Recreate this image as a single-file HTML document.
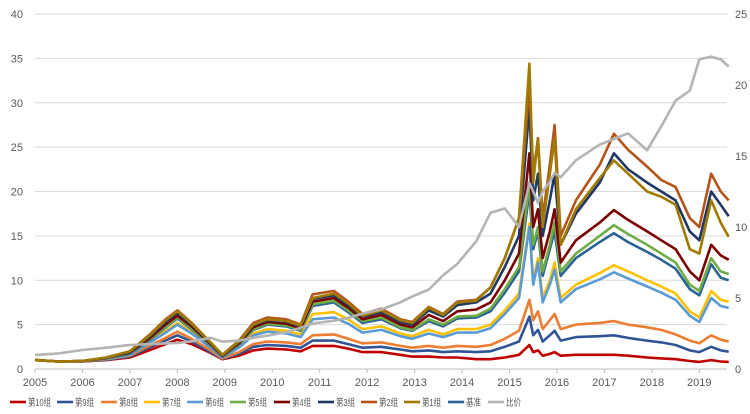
<!DOCTYPE html>
<html><head><meta charset="utf-8"><style>
html,body{margin:0;padding:0;background:#fff;}
svg{display:block;font-family:"Liberation Sans","Noto Sans CJK SC",sans-serif;}
</style></head><body>
<svg id="chart" width="750" height="414" viewBox="0 0 750 414" xmlns="http://www.w3.org/2000/svg">
<g id="grid"></g>
<g id="axes"></g>
<g id="series"></g>
<g id="legend"></g>
</svg>
<script>
const dates=[2005.0,2005.5,2006.0,2006.5,2007.0,2007.4,2007.75,2008.0,2008.3,2008.7,2008.95,2009.3,2009.6,2009.9,2010.3,2010.6,2010.85,2011.3,2011.6,2011.9,2012.3,2012.7,2012.95,2013.3,2013.6,2013.9,2014.3,2014.6,2014.9,2015.2,2015.42,2015.5,2015.6,2015.7,2015.85,2015.95,2016.08,2016.4,2016.9,2017.2,2017.5,2017.9,2018.2,2018.5,2018.8,2019.0,2019.25,2019.45,2019.62];
const g10=[1.0,0.85,0.85,1.0,1.3,2.1,2.8,3.3,2.8,1.8,1.1,1.5,2.1,2.3,2.2,2.0,2.6,2.6,2.3,1.9,1.9,1.6,1.4,1.4,1.3,1.3,1.1,1.1,1.3,1.6,2.7,1.9,2.1,1.5,1.7,1.9,1.5,1.6,1.6,1.6,1.5,1.3,1.2,1.1,0.9,0.8,1.0,0.85,0.8];
const g9=[1.0,0.85,0.87,1.05,1.4,2.4,3.2,3.8,3.1,1.9,1.15,1.7,2.5,2.7,2.6,2.4,3.2,3.2,2.8,2.4,2.5,2.2,2.0,2.1,1.9,2.0,1.9,2.0,2.5,3.1,5.9,3.8,4.4,3.1,3.8,4.3,3.2,3.6,3.7,3.8,3.5,3.2,3.0,2.7,2.1,1.9,2.5,2.1,1.95];
const g8=[1.0,0.85,0.88,1.1,1.5,2.6,3.5,4.2,3.4,2.1,1.2,1.9,2.8,3.1,3.0,2.8,3.8,3.9,3.4,2.9,3.0,2.6,2.4,2.6,2.4,2.6,2.5,2.7,3.4,4.3,7.8,5.5,6.5,4.5,5.5,6.2,4.5,5.0,5.2,5.4,5.0,4.7,4.4,3.9,3.2,2.9,3.8,3.3,3.1];
const g7=[1.0,0.85,0.9,1.15,1.65,3.0,4.3,5.2,4.2,2.5,1.35,2.5,4.0,4.5,4.3,3.9,6.2,6.4,5.6,4.5,4.8,4.0,3.7,4.4,3.9,4.5,4.5,5.0,6.6,8.5,16.4,10,12.5,8,10,12,8,9.5,10.8,11.7,11,10,9.3,8.5,6.5,5.8,8.8,7.8,7.6];
const g6=[1.0,0.85,0.9,1.15,1.6,2.9,4.1,5.0,4.0,2.4,1.3,2.4,3.8,4.2,4.0,3.6,5.6,5.8,5.1,4.1,4.4,3.7,3.4,4.0,3.6,4.1,4.1,4.6,6.2,8.0,16,9.5,12,7.5,9.5,11.2,7.5,9,10.1,10.9,10.2,9.3,8.6,7.8,6,5.3,8,7.1,6.9];
const g5=[1.0,0.85,0.9,1.2,1.8,3.3,4.8,5.8,4.6,2.7,1.45,2.8,4.5,5.1,4.9,4.4,7.3,7.7,6.6,5.4,5.8,4.7,4.4,5.6,5.0,5.9,6.0,6.8,9,11.5,21,14,16,11,14,16.5,11,13,15,16.2,15.2,14,13,12,9.5,8.8,12.5,11,10.7];
const g4=[1.0,0.85,0.9,1.25,1.85,3.4,5.0,6.0,4.8,2.8,1.5,2.9,4.7,5.3,5.1,4.6,7.6,8.0,6.9,5.6,6.1,5.0,4.7,6.1,5.4,6.5,6.7,7.5,10,13,24.3,16,18,12.5,15.5,18,12,14.5,16.5,17.9,16.8,15.5,14.5,13.5,11,10,14,12.8,12.3];
const g3=[1.0,0.85,0.9,1.25,1.9,3.6,5.3,6.3,5.0,2.9,1.55,3.0,4.9,5.5,5.3,4.8,7.9,8.3,7.2,5.9,6.4,5.3,5.0,6.6,5.9,7.2,7.5,8.5,11.5,15,29.6,19,22,15,19,22,14,17.5,21,24.3,22.5,21,20,19,15.5,14.5,20,18.5,17.2];
const g2=[1.0,0.85,0.9,1.3,2.0,3.8,5.6,6.6,5.2,3.0,1.6,3.2,5.2,5.8,5.6,5.0,8.4,8.8,7.6,6.2,6.8,5.6,5.3,7.0,6.2,7.6,7.8,9.2,12.5,17,32,22,26,17,23,27.5,15,19,23,26.5,24.7,22.8,21.3,20.5,17,16,22,20,19];
const g1=[1.0,0.85,0.9,1.3,2.0,3.7,5.5,6.5,5.1,3.0,1.6,3.1,5.0,5.6,5.4,4.9,8.0,8.5,7.4,6.0,6.6,5.5,5.2,6.9,6.1,7.5,7.7,9.2,12.5,17,34.4,21,26,16,22,26,14,18,21.5,23.5,22,20,19.4,18.5,13.5,13,19,16.5,14.9];
const bench=[1.0,0.85,0.9,1.2,1.75,3.2,4.7,5.7,4.5,2.65,1.4,2.75,4.4,5.0,4.8,4.3,7.1,7.5,6.4,5.2,5.6,4.6,4.3,5.4,4.8,5.7,5.8,6.5,8.6,11,20,13.5,15.5,10.5,13.5,15.5,10.5,12.5,14.3,15.3,14.3,13.2,12.3,11.3,9,8.3,11.8,10.3,10.0];
const ratio=[0.98,1.1,1.34,1.5,1.69,1.75,1.8,1.83,1.95,2.2,1.92,2.0,2.2,2.35,2.6,2.9,3.2,3.4,3.6,3.9,4.2,4.7,5.1,5.6,6.6,7.4,9.0,11.0,11.3,10.0,13.1,12.5,11.7,12.5,13.2,13.8,13.5,14.7,15.8,16.2,16.6,15.4,17.1,18.9,19.6,21.8,22.0,21.8,21.3];
const yearTicks=[2005,2006,2007,2008,2009,2010,2011,2012,2013,2014,2015,2016,2017,2018,2019];
const leftTicks=[0,5,10,15,20,25,30,35,40];
const rightTicks=[0,5,10,15,20,25];
const seriesNames=["第10组","第9组","第8组","第7组","第6组","第5组","第4组","第3组","第2组","第1组","基准","比价"];

const NS="http://www.w3.org/2000/svg";
const X0=35,PXY=47.45,YB=369,YT=14;
const xs=t=>X0+(t-2005)*PXY;
const yl=v=>YB-(v/40)*(YB-YT);
const yr=v=>YB-(v/25)*(YB-YT);
function mk(tag,attrs,parent){const e=document.createElementNS(NS,tag);for(const k in attrs)e.setAttribute(k,attrs[k]);parent.appendChild(e);return e;}
const grid=document.getElementById('grid'),axes=document.getElementById('axes'),ser=document.getElementById('series'),leg=document.getElementById('legend');
leftTicks.forEach(v=>{
  if(v>0){const l=mk('line',{x1:X0,x2:727,y1:yl(v),y2:yl(v),stroke:'#d9d9d9','stroke-width':1},grid);
  
  }
  const t=mk('text',{x:23,y:yl(v)+4,'text-anchor':'end','font-size':11,fill:'#595959'},axes);t.textContent=v;
  
  
});
rightTicks.forEach(v=>{
  const t=mk('text',{x:735,y:yr(v)+4,'font-size':11,fill:'#595959'},axes);t.textContent=v;
  
  
});
const ax=mk('line',{x1:X0,x2:727,y1:YB,y2:YB,stroke:'#bfbfbf','stroke-width':1},axes);


yearTicks.forEach(y=>{
  const tk=mk('line',{x1:xs(y),x2:xs(y),y1:YB,y2:YB+4,stroke:'#bfbfbf'},axes);
  
  
  const t=mk('text',{x:xs(y),y:386,'text-anchor':'middle','font-size':11,fill:'#595959'},axes);t.textContent=y;
  
  
});
const colors=['#c00000','#2f5597','#ed7d31','#ffc000','#5b9bd5','#70ad47','#7b0000','#1f3864','#b5541a','#a07a00','#2a6496','#b4b4b4'];
const data=[g10,g9,g8,g7,g6,g5,g4,g3,g2,g1,bench,ratio];
const order=[0,1,2,3,4,10,5,6,7,8,9,11];
order.forEach(i=>{
  const arr=data[i],f=i===11?yr:yl;
  const d=arr.map((v,k)=>(k?'L':'M')+xs(dates[k]).toFixed(1)+','+f(v).toFixed(1)).join('');
  const p=mk('path',{d:d,fill:'none',stroke:colors[i],'stroke-width':2.6,'stroke-linejoin':'round'},ser);
  
  
});
const lx=[10,57,101,144,187,230,274,318,361,404,448,488];
seriesNames.forEach((n,i)=>{
  const g=mk('g',{},leg);
  
  
  mk('line',{x1:lx[i],x2:lx[i]+16,y1:402,y2:402,stroke:colors[i],'stroke-width':2.6},g);
  const w=n.length===4?23:(n.length===3?19:15);
  const t=mk('text',{x:lx[i]+18,y:406,'font-size':10,fill:'#595959',textLength:w,lengthAdjust:'spacingAndGlyphs'},g);t.textContent=n;
});
</script>
</body></html>
